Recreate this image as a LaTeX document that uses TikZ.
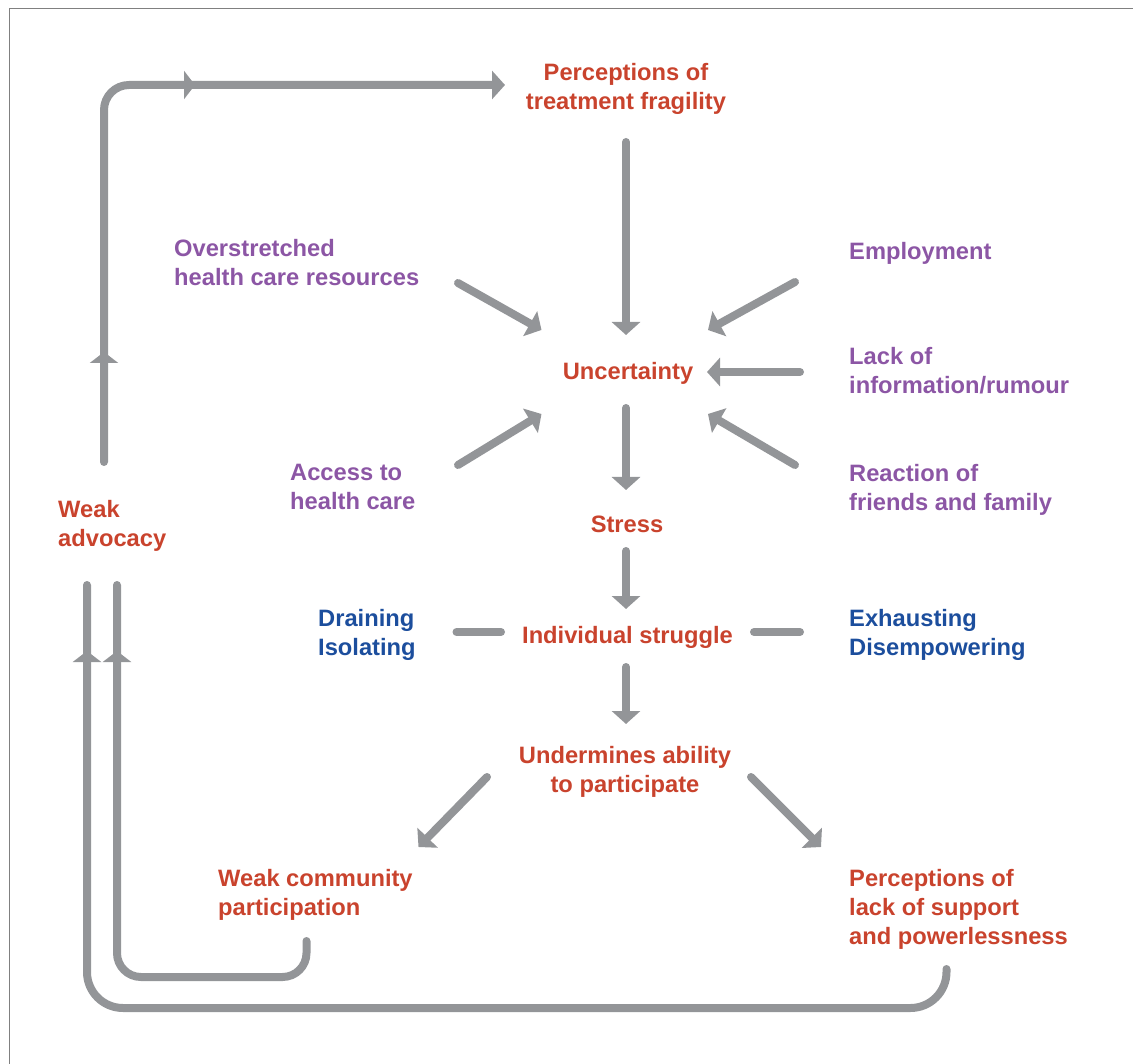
\documentclass[tikz,border=0pt]{standalone}
\usepackage{fontspec}
\setmainfont{Liberation Sans}
\usetikzlibrary{arrows.meta,decorations.markings}
\definecolor{cred}{HTML}{C9432D}
\definecolor{cpurple}{HTML}{8C56A5}
\definecolor{cblue}{HTML}{1C4E9D}
\definecolor{cgray}{HTML}{939598}
\definecolor{cborder}{HTML}{808080}
\begin{document}
\begin{tikzpicture}[x=1pt,y=-1pt,
  lbl/.style={inner sep=0pt, yshift=-3pt, font=\fontsize{23.7}{29}\selectfont\bfseries, execute at begin node=\strut},
  lft/.style={lbl, anchor=north west, align=left},
  ctr/.style={lbl, anchor=north, align=center},
  redt/.style={text=cred},
  purt/.style={text=cpurple},
  blut/.style={text=cblue},
  conn/.style={draw=cgray, line width=8pt, line cap=round},
  arr/.style={conn, -{Triangle[width=28pt,length=13pt]}},
  midtip/.style={postaction={decorate, decoration={markings, mark=at position #1 with {\arrow{Triangle[width=28pt,length=11pt]}}}}}
]
\useasboundingbox (0,0) rectangle (1133,1064);
\draw[cborder, line width=1.3pt] (9.5,1080) -- (9.5,8.5) -- (1150,8.5);

% text nodes
\node[ctr, redt] (perc) at (626,59.7) {Perceptions of\\treatment fragility};
\node[lft, purt] (over) at (174,235.7) {Overstretched\\health care resources};
\node[lft, purt] (emp) at (849,235.7) {Employment};
\node[ctr, redt] (unc) at (628,355.7) {Uncertainty};
\node[lft, purt] (lack) at (849,343.7) {Lack of\\information/rumour};
\node[lft, purt] (acc) at (290,460.7) {Access to\\health care};
\node[lft, purt] (react) at (849,460.7) {Reaction of\\friends and family};
\node[lft, redt] (weak) at (58,496.7) {Weak\\advocacy};
\node[ctr, redt] (stress) at (627,508.7) {Stress};
\node[lft, blut] (drain) at (318,605.7) {Draining\\Isolating};
\node[ctr, redt] (ind) at (627.5,619.7) {Individual struggle};
\node[lft, blut] (exh) at (849,605.7) {Exhausting\\Disempowering};
\node[ctr, redt] (und) at (625,742.7) {Undermines ability\\to participate};
\node[lft, redt] (wcp) at (218,865.7) {Weak community\\participation};
\node[lft, redt] (pls) at (849,865.7) {Perceptions of\\lack of support\\and powerlessness};

% connector end points
\coordinate (percS) at (626,142);
\coordinate (uncN) at (626,335);
\coordinate (overE) at (458,283);
\coordinate (uncNW) at (541.5,330);
\coordinate (empW) at (795,282);
\coordinate (uncNE) at (708,330);
\coordinate (lackW) at (800,372);
\coordinate (uncE) at (707,372);
\coordinate (accE) at (458,465);
\coordinate (uncSW) at (541.5,414);
\coordinate (reactW) at (795,465);
\coordinate (uncSE) at (708,414);
\coordinate (uncS) at (626,408);
\coordinate (stressN) at (626,490);
\coordinate (stressS) at (626,551);
\coordinate (indN) at (626,609);
\coordinate (drainE) at (456.5,632);
\coordinate (indW) at (501,632);
\coordinate (indE) at (754,632);
\coordinate (exhW) at (800,632);
\coordinate (indS) at (626,667);
\coordinate (undN) at (626,724);
\coordinate (undSW) at (487,777);
\coordinate (wcpN) at (418.5,847);
\coordinate (undSE) at (751,777);
\coordinate (plsN) at (821,847);
\coordinate (weakN) at (104,462);
\coordinate (percW) at (505,85);
\coordinate (wcpS) at (306.5,941);
\coordinate (weakS1) at (117,585);
\coordinate (plsS) at (946.5,969);
\coordinate (weakS2) at (87,585);

% arrows into Uncertainty
\draw[arr] (percS) -- (uncN);
\draw[arr] (overE) -- (uncNW);
\draw[arr] (empW) -- (uncNE);
\draw[arr] (lackW) -- (uncE);
\draw[arr] (accE) -- (uncSW);
\draw[arr] (reactW) -- (uncSE);
% main chain
\draw[arr] (uncS) -- (stressN);
\draw[arr] (stressS) -- (indN);
\draw[conn] (drainE) -- (indW);
\draw[conn] (indE) -- (exhW);
\draw[arr] (indS) -- (undN);
\draw[arr] (undSW) -- (wcpN);
\draw[arr] (undSE) -- (plsN);

% feedback loops
\draw[arr, rounded corners=25pt, midtip=110pt, midtip=-310pt] (weakN) -- (104,85) -- (percW);
\draw[conn, rounded corners=24pt, midtip=-66pt] (wcpS) -- (306.5,977) -- (117,977) -- (weakS1);
\draw[conn, rounded corners=36pt, midtip=-66pt] (plsS) -- (946.5,1008) -- (87,1008) -- (weakS2);
\end{tikzpicture}
\end{document}
